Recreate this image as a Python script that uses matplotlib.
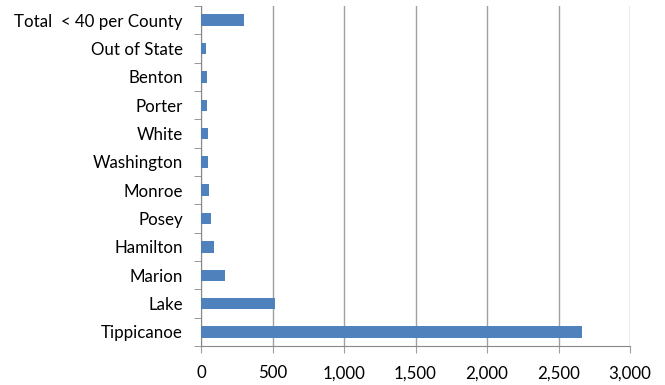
import numpy as np
import matplotlib.pyplot as plt
from matplotlib.ticker import FuncFormatter, FixedLocator

counties = ['Tippicanoe', 'Lake', 'Marion', 'Hamilton', 'Posey', 'Monroe',
            'Washington', 'White', 'Porter', 'Benton', 'Out of State',
            'Total  < 40 per County']
counts = [2664, 518, 168, 91, 73, 56, 49, 49, 41, 42, 38, 301]

plt.rcParams['font.family'] = ['Lato', 'DejaVu Sans']

fig = plt.figure(figsize=(6.65, 3.85), dpi=100)
ax = fig.add_axes([201 / 665, 1 - 346 / 385, 429 / 665, 340 / 385])

y = np.arange(len(counties))
ax.barh(y, counts, height=0.4, color='#4f81bd', zorder=3)

ax.set_xlim(0, 3000)
ax.set_ylim(-0.5, len(counties) - 0.5)
ax.set_xticks(np.arange(0, 3001, 500))
ax.xaxis.set_major_formatter(FuncFormatter(lambda v, p: f'{int(v):,}'))
ax.set_yticks(y)
ax.set_yticklabels(counties)
ax.yaxis.set_minor_locator(FixedLocator(np.arange(-0.5, len(counties), 1)))

ax.grid(axis='x', color='#a0a0a0', linewidth=1, zorder=0)
for s in ['top', 'right']:
    ax.spines[s].set_visible(False)
for s in ['left', 'bottom']:
    ax.spines[s].set_color('#888888')
ax.tick_params(axis='y', which='major', length=0, pad=13, labelsize=12.2)
ax.tick_params(axis='y', which='minor', length=5, color='#888888')
ax.tick_params(axis='x', length=5, color='#a0a0a0', pad=9, labelsize=12.2)

fig.savefig('out.png', dpi=100)
